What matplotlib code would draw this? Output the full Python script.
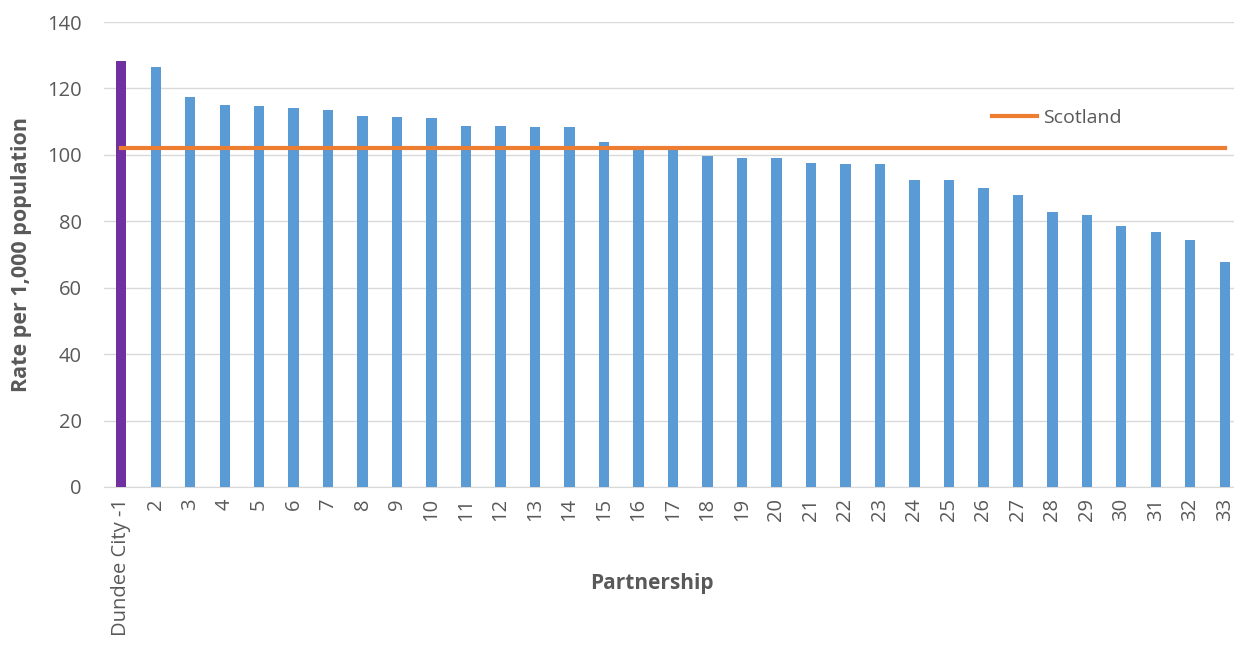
import numpy as np
import matplotlib.pyplot as plt

# partnership rates per 1,000 population
partnerships = ["Dundee City -1"] + [str(i) for i in range(2, 34)]
rates = [128.3, 126.5, 117.5, 115.0, 114.8, 114.2, 113.6, 111.7, 111.4, 111.1,
         108.7, 108.7, 108.4, 108.4, 103.9, 102.0, 102.0, 99.7, 99.1, 99.1,
         97.6, 97.3, 97.3, 92.5, 92.5, 90.0, 88.0, 82.8, 81.9, 78.6,
         76.8, 74.4, 67.8]
scotland_rate = 102.2

BLUE = "#5B9BD5"
PURPLE = "#7030A0"
ORANGE = "#ED7D31"
GREY = "#595959"

plt.rcParams['font.family'] = ['Open Sans', 'DejaVu Sans']

fig = plt.figure(figsize=(12.34, 6.48), dpi=100)
ax = fig.add_axes([104 / 1234, 1 - 487 / 648, 1138 / 1234, 465 / 648])

x = np.arange(len(partnerships))
colors = [PURPLE] + [BLUE] * (len(partnerships) - 1)
ax.bar(x, rates, width=0.3, color=colors, zorder=3)
ax.plot([x[0], x[-1]], [scotland_rate, scotland_rate], color=ORANGE, lw=3,
        label="Scotland", zorder=4)

ax.set_xlim(-0.5, len(partnerships) - 0.5)
ax.set_ylim(0, 140)
ax.set_yticks(np.arange(0, 141, 20))
ax.set_xticks(x)
ax.set_xticklabels(partnerships, rotation=90, va='top')
ax.tick_params(axis='both', length=0, labelsize=14.5, colors=GREY, pad=8)
ax.tick_params(axis='y', pad=16)

ax.grid(axis='y', color="#D9D9D9", lw=1, zorder=0)
for s in ["top", "right", "left"]:
    ax.spines[s].set_visible(False)
ax.spines["bottom"].set_color("#D9D9D9")

ax.set_ylabel("Rate per 1,000 population", fontsize=15.5, fontweight='bold',
              color=GREY)
ax.yaxis.set_label_coords(-0.063, 0.5)
ax.set_xlabel("Partnership", fontsize=15, fontweight='bold', color=GREY)
ax.xaxis.set_label_coords(0.4815, -0.185)

leg = ax.legend(loc='center left', bbox_to_anchor=(0.765, 0.793), frameon=False,
                fontsize=14, handlelength=2.3, handletextpad=0.3)
for t in leg.get_texts():
    t.set_color(GREY)

fig.savefig("out.png", dpi=100)
